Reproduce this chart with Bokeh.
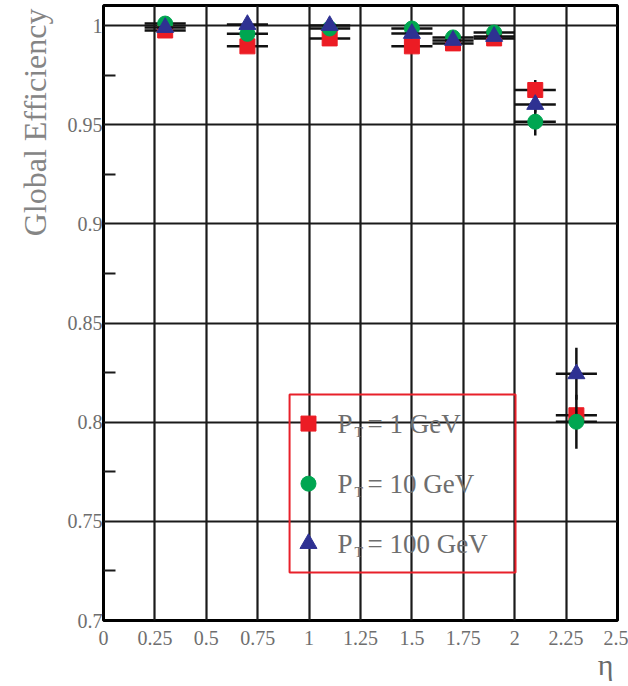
import numpy as np
from bokeh.plotting import figure
from bokeh.models import Range1d, FixedTicker, BoxAnnotation, Label, CustomJSTickFormatter, Title
from bokeh.embed import file_html
from bokeh.resources import INLINE

# ---- data ----
eta = [0.3, 0.7, 1.1, 1.5, 1.7, 1.9, 2.1, 2.3]
eta_err = [0.1, 0.1, 0.1, 0.1, 0.1, 0.1, 0.1, 0.1]

eff_1gev = [0.9975, 0.9895, 0.9935, 0.9895, 0.991, 0.9935, 0.9675, 0.8035]
err_1gev = [0.001, 0.0015, 0.0015, 0.0015, 0.0015, 0.0015, 0.005, 0.004]

eff_10gev = [1.001, 0.9958, 0.9985, 0.9985, 0.994, 0.9965, 0.9515, 0.8002]
err_10gev = [0.001, 0.0015, 0.0015, 0.0015, 0.0015, 0.0015, 0.007, 0.0136]

eff_100gev = [0.999, 1.0005, 1.0, 0.996, 0.9925, 0.9945, 0.9602, 0.8244]
err_100gev = [0.001, 0.001, 0.001, 0.0015, 0.0015, 0.0015, 0.004, 0.0131]

x_ticks = [0, 0.25, 0.5, 0.75, 1, 1.25, 1.5, 1.75, 2, 2.25, 2.5]
y_ticks = [0.7, 0.75, 0.8, 0.85, 0.9, 0.95, 1.0]
y_minor = [0.725, 0.775, 0.825, 0.875, 0.925, 0.975]

series_labels = ["= 1 GeV", "= 10 GeV", "= 100 GeV"]
series_colors = ["#ec1c24", "#00a651", "#2e3192"]
series_markers = ["square", "circle", "triangle"]

# ---- figure ----
p = figure(width=628, height=686, output_backend="svg", toolbar_location=None,
           title=None, x_range=Range1d(0, 2.5), y_range=Range1d(0.7, 1.0101),
           min_border_left=103, min_border_right=11, min_border_top=5,
           min_border_bottom=66)
p.background_fill_color = "white"
p.border_fill_color = "white"
p.outline_line_color = "black"
p.outline_line_width = 3
p.outline_line_alpha = 1.0

label_font = "Liberation Serif"
grey = "#6e6e6e"

p.xaxis.ticker = FixedTicker(ticks=x_ticks)
p.yaxis.ticker = FixedTicker(ticks=y_ticks, minor_ticks=y_minor)
p.xgrid.ticker = FixedTicker(ticks=x_ticks)
p.ygrid.ticker = FixedTicker(ticks=y_ticks)
for g in (p.xgrid, p.ygrid):
    g.grid_line_color = "#1a1a1a"
    g.grid_line_width = 2.2
    g.grid_line_alpha = 1.0

p.xaxis.formatter = CustomJSTickFormatter(code="return tick.toString();")
p.yaxis.formatter = CustomJSTickFormatter(code="return tick.toString();")

for ax in (p.xaxis, p.yaxis):
    ax.axis_line_color = None
    ax.major_tick_in = 0
    ax.major_tick_out = 0
    ax.major_label_text_font = label_font
    ax.major_label_text_font_size = "20px"
    ax.major_label_text_color = grey
p.xaxis.minor_tick_line_color = None
p.xaxis.major_label_standoff = 10
p.yaxis.major_label_standoff = 1
p.yaxis.minor_tick_in = 12
p.yaxis.minor_tick_out = 0
p.yaxis.minor_tick_line_width = 2
p.yaxis.minor_tick_line_color = "#1a1a1a"

# ---- data series ----
x = np.array(eta)
xe = np.array(eta_err)
for eff, err, col, mk in zip([eff_1gev, eff_10gev, eff_100gev],
                             [err_1gev, err_10gev, err_100gev],
                             series_colors, series_markers):
    y = np.array(eff)
    ye = np.array(err)
    p.segment(x0=x - xe, x1=x + xe, y0=y, y1=y, line_color="#111111", line_width=2.5)
    p.segment(x0=x, x1=x, y0=y - ye, y1=y + ye, line_color="#111111", line_width=2.5)
    p.scatter(x=x, y=y, marker=mk, size=15 if mk != "triangle" else 17,
              fill_color=col, line_color=col, line_width=1)

# ---- legend (drawn by hand, red frame) ----
p.add_layout(BoxAnnotation(left=0.905, right=2.004, bottom=0.7242, top=0.8139,
                           fill_color=None, fill_alpha=0,
                           line_color="#e8202a", line_width=2, line_alpha=1))
leg_marker_x = 0.997
leg_text_x = 1.138
leg_rows = [0.7993, 0.7690, 0.7388]
for ly, col, mk, txt in zip(leg_rows, series_colors, series_markers, series_labels):
    p.scatter(x=[leg_marker_x], y=[ly], marker=mk, size=15 if mk != "triangle" else 17,
              fill_color=col, line_color=col)
    p.add_layout(Label(x=leg_text_x, y=ly, text="P", text_font=label_font,
                       text_font_size="27px", text_color=grey,
                       text_align="left", text_baseline="middle"))
    p.add_layout(Label(x=leg_text_x, y=ly, x_offset=17, y_offset=-9, text="T",
                       text_font=label_font, text_font_size="14px",
                       text_color=grey, text_align="left", text_baseline="middle"))
    p.add_layout(Label(x=leg_text_x, y=ly, x_offset=30, text=txt,
                       text_font=label_font, text_font_size="27px",
                       text_color=grey, text_align="left", text_baseline="middle"))

# ---- axis titles ----
p.add_layout(Title(text="Global Efficiency", align="right", offset=3, standoff=20,
                   vertical_align="top",
                   text_font=label_font, text_font_size="32px",
                   text_font_style="normal", text_color="#858585"), "left")
p.add_layout(Title(text="η", align="right", offset=4, standoff=-3,
                   text_font=label_font, text_font_size="30px",
                   text_font_style="normal", text_color="#6a6a6a"), "below")

open("out.html", "w").write(file_html(p, INLINE))
